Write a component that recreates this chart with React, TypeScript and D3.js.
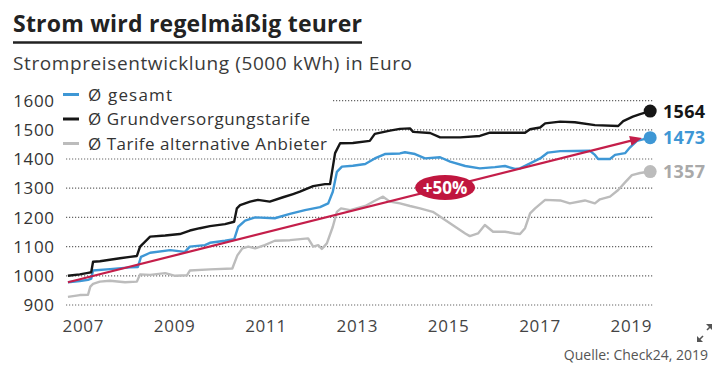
import React from 'react'
import * as d3 from 'd3'

// values (fractional year, Euro)
const blackYears = [2006.67, 2006.93, 2007.11, 2007.18, 2007.22, 2007.37, 2007.59, 2007.81, 2008.03, 2008.18, 2008.25, 2008.36, 2008.47, 2008.8, 2009.12, 2009.34, 2009.56, 2009.78, 2010.11, 2010.31, 2010.37, 2010.44, 2010.66, 2010.83, 2011.09, 2011.38, 2011.6, 2011.75, 2012.04, 2012.3, 2012.41, 2012.52, 2012.63, 2012.91, 2013.28, 2013.39, 2013.72, 2013.94, 2014.16, 2014.23, 2014.6, 2014.82, 2015.26, 2015.69, 2015.91, 2016.68, 2016.79, 2017.01, 2017.12, 2017.45, 2017.77, 2018.21, 2018.72, 2018.83, 2019.04, 2019.2, 2019.42]
const blackValues = [1000, 1005, 1010, 1012, 1048, 1050, 1055, 1060, 1065, 1068, 1100, 1117, 1134, 1138, 1143, 1155, 1163, 1170, 1177, 1185, 1231, 1242, 1254, 1260, 1254, 1269, 1280, 1288, 1307, 1314, 1314, 1420, 1454, 1455, 1462, 1486, 1497, 1503, 1505, 1493, 1489, 1474, 1474, 1479, 1490, 1490, 1502, 1508, 1522, 1528, 1526, 1516, 1513, 1530, 1545, 1554, 1564]

const blueYears = [2006.67, 2006.93, 2007.11, 2007.18, 2007.22, 2007.59, 2008.03, 2008.2, 2008.27, 2008.47, 2008.91, 2009.23, 2009.34, 2009.67, 2009.78, 2010.11, 2010.31, 2010.4, 2010.55, 2010.77, 2011.2, 2011.53, 2011.86, 2012.19, 2012.37, 2012.47, 2012.56, 2012.67, 2012.91, 2013.18, 2013.39, 2013.61, 2013.94, 2014.05, 2014.27, 2014.49, 2014.82, 2015.04, 2015.37, 2015.69, 2016.02, 2016.24, 2016.46, 2016.57, 2016.79, 2017.01, 2017.18, 2017.45, 2018.1, 2018.21, 2018.28, 2018.54, 2018.65, 2018.87, 2018.98, 2019.13, 2019.42]
const blueValues = [978, 982, 986, 990, 1018, 1023, 1029, 1030, 1065, 1079, 1088, 1082, 1100, 1105, 1113, 1120, 1125, 1168, 1189, 1200, 1197, 1212, 1225, 1235, 1248, 1288, 1356, 1374, 1377, 1383, 1402, 1417, 1419, 1423, 1417, 1402, 1406, 1391, 1376, 1368, 1372, 1376, 1366, 1368, 1385, 1402, 1422, 1427, 1428, 1414, 1400, 1400, 1414, 1420, 1440, 1462, 1473]

const greyYears = [2006.67, 2006.93, 2007.11, 2007.16, 2007.22, 2007.37, 2007.59, 2007.92, 2008.18, 2008.25, 2008.47, 2008.8, 2009.02, 2009.28, 2009.34, 2009.78, 2010.27, 2010.38, 2010.49, 2010.62, 2010.77, 2010.98, 2011.2, 2011.53, 2011.93, 2012.04, 2012.15, 2012.23, 2012.34, 2012.47, 2012.56, 2012.65, 2012.85, 2013.18, 2013.39, 2013.57, 2013.72, 2013.94, 2014.16, 2014.38, 2014.66, 2014.93, 2015.15, 2015.37, 2015.47, 2015.65, 2015.8, 2015.98, 2016.24, 2016.46, 2016.57, 2016.68, 2016.79, 2016.9, 2017.12, 2017.45, 2017.66, 2017.99, 2018.21, 2018.32, 2018.54, 2018.72, 2018.87, 2019.02, 2019.2, 2019.42]
const greyValues = [928, 934, 935, 963, 972, 980, 983, 978, 980, 1005, 1003, 1009, 1000, 1002, 1018, 1022, 1025, 1070, 1094, 1100, 1094, 1105, 1120, 1122, 1128, 1100, 1105, 1092, 1111, 1168, 1219, 1231, 1225, 1239, 1257, 1271, 1254, 1248, 1239, 1231, 1219, 1191, 1168, 1145, 1136, 1145, 1174, 1151, 1151, 1145, 1143, 1163, 1214, 1231, 1260, 1258, 1248, 1258, 1248, 1262, 1271, 1294, 1320, 1345, 1352, 1357]

const yTicks = [900, 1000, 1100, 1200, 1300, 1400, 1500, 1600]
const xTicks = [2007, 2009, 2011, 2013, 2015, 2017, 2019]
const legendLabels = ['Ø gesamt', 'Ø Grundversorgungstarife', 'Ø Tarife alternative Anbieter']
const endLabels = ['1473', '1564', '1357']
const trendStart = [2006.67, 978]
const trendEnd = [2019.24, 1472]
const trendLabel = '+50%'

const colors = ['#3e97d5', '#161616', '#bcbcbc']
const legendWidths = [84, 222, 239]
const FONT = '"Open Sans", "Noto Sans", sans-serif'

const App = () => {
  const x = d3.scaleLinear().domain([2007, 2019]).range([83, 631])
  const y = d3.scaleLinear().domain([900, 1600]).range([305, 100.6])

  const series = [
    blueYears.map((yr, i) => [yr, blueValues[i]]),
    blackYears.map((yr, i) => [yr, blackValues[i]]),
    greyYears.map((yr, i) => [yr, greyValues[i]]),
  ]
  const line = d3.line().x(d => x(d[0])).y(d => y(d[1]))

  const gridLeft = 66
  const gridRight = 653

  const ax1 = x(trendStart[0]), ay1 = y(trendStart[1])
  const ax2 = x(trendEnd[0]), ay2 = y(trendEnd[1])
  const t = 0.657
  const lx = ax1 + (ax2 - ax1) * t
  const ly = ay1 + (ay2 - ay1) * t
  const ang = Math.atan2(ay2 - ay1, ax2 - ax1)
  const head = 12
  const arrowHead = [
    [ax2, ay2],
    [ax2 - head * Math.cos(ang) + 5 * Math.sin(ang), ay2 - head * Math.sin(ang) - 5 * Math.cos(ang)],
    [ax2 - head * Math.cos(ang) - 5 * Math.sin(ang), ay2 - head * Math.sin(ang) + 5 * Math.cos(ang)],
  ]

  return (
    <svg width={720} height={367} style={{position: 'absolute', left: 0, top: 0, fontFamily: FONT}}>
      <rect width={720} height={367} fill="#fff"/>
      <text x={13} y={32} fontSize={23} fontWeight={700} fill="#222" textLength={349}>Strom wird regelmäßig teurer</text>
      <line x1={13} x2={362} y1={42.5} y2={42.5} stroke="#222" strokeWidth={2.5}/>
      <text x={13} y={70} fontSize={19} fill="#3a3a3a" textLength={399}>Strompreisentwicklung (5000 kWh) in Euro</text>

      {yTicks.map(v => (
        <g key={v}>
          <line x1={gridLeft} x2={gridRight} y1={y(v)} y2={y(v)} stroke="#666" strokeWidth={1.2} strokeDasharray="1.2 1.8"/>
          <text x={54} y={y(v)} dy="0.36em" textAnchor="end" fontSize={17} fill="#333" textLength={String(v).length * 10.2}>{v}</text>
        </g>
      ))}
      {xTicks.map(v => (
        <text key={v} x={x(v)} y={332} textAnchor="middle" fontSize={17} fill="#444" textLength={41}>{v}</text>
      ))}

      <rect x={58} y={84} width={275} height={67} fill="#fff"/>
      {legendLabels.map((l, i) => {
        const ly2 = 94.5 + i * 24.5
        return (
          <g key={l}>
            <line x1={63} x2={79} y1={ly2} y2={ly2} stroke={colors[i]} strokeWidth={3}/>
            <text x={88} y={ly2} dy="0.36em" fontSize={17} fill="#333" textLength={legendWidths[i]}>{l}</text>
          </g>
        )
      })}

      {[2, 0, 1].map(i => (
        <path key={i} d={line(series[i])} fill="none" stroke={colors[i]} strokeWidth={2.4} strokeLinejoin="round"/>
      ))}

      <line x1={ax1} y1={ay1} x2={ax2 - 8 * Math.cos(ang)} y2={ay2 - 8 * Math.sin(ang)} stroke="#c41e4a" strokeWidth={2.2}/>
      <polygon points={arrowHead.map(p => p.join(',')).join(' ')} fill="#c41e4a"/>
      <ellipse cx={lx} cy={ly} rx={30} ry={12.5} fill="#c0163f"/>
      <text x={lx} y={ly} dy="0.36em" textAnchor="middle" fontSize={17} fontWeight={700} fill="#fff">{trendLabel}</text>

      {series.map((s, i) => {
        const last = s[s.length - 1]
        return (
          <g key={i}>
            <circle cx={x(last[0])} cy={y(last[1])} r={6.5} fill={colors[i]}/>
            <text x={663} y={y(last[1])} dy="0.36em" fontSize={18} fontWeight={700} fill={i === 2 ? '#a9a9a9' : colors[i]} textLength={42}>{endLabels[i]}</text>
          </g>
        )
      })}

      <g stroke="#555" strokeWidth={1.6} fill="#555">
        <line x1={699} y1={340} x2={703} y2={336}/>
        <line x1={707} y1={330} x2={711} y2={326}/>
        <polygon points="697,342 697,336 703,342" stroke="none"/>
        <polygon points="712,324 712,330 706,324" stroke="none"/>
      </g>
      <text x={708} y={360} textAnchor="end" fontSize={14} fill="#555">Quelle: Check24, 2019</text>
    </svg>
  )
}

export default App
